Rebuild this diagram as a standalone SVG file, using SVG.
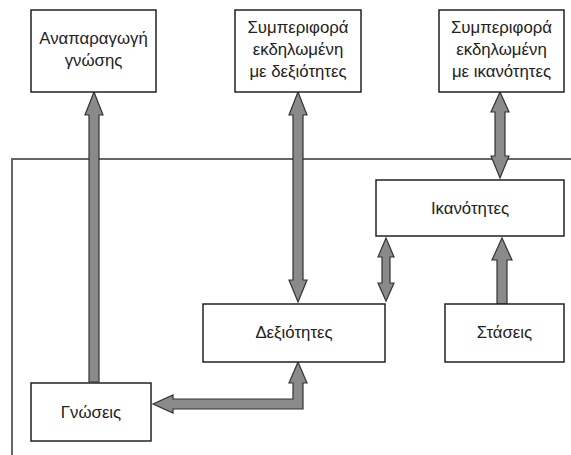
<svg xmlns="http://www.w3.org/2000/svg" width="571" height="455" viewBox="0 0 571 455">
<style>
.box{fill:#fff;stroke:#222;stroke-width:1.5}
.t{font-family:"Liberation Sans",Arial,sans-serif;font-size:16.8px;fill:#222;text-anchor:middle}
.arr{fill:#8a8a8a;stroke:#333;stroke-width:1.2;stroke-linejoin:miter}
</style>
<rect width="571" height="455" fill="#fff"/>
<path d="M12,455 V159 H571" fill="none" stroke="#666" stroke-width="2"/>
<g id="connectors">
<path class="arr" d="M94,92 L103,115 L99,115 L99,382 L89,382 L89,115 L85,115 Z"/>
<path class="arr" d="M298,92 L307,115 L303,115 L303,280 L307,280 L298,302 L289,280 L293,280 L293,115 L289,115 Z"/>
<path class="arr" d="M500,92 L509,112 L505,112 L505,156 L509,156 L500,178 L491,156 L495,156 L495,112 L491,112 Z"/>
<path class="arr" d="M386,238 L394,257 L390,257 L390,283 L394,283 L386,301 L378,283 L382,283 L382,257 L378,257 Z"/>
<path class="arr" d="M502,238 L512,260 L507,260 L507,304 L497,304 L497,260 L492,260 Z"/>
<path class="arr" d="M298,362 L307,383 L303,383 L303,409 L173,409 L173,413 L153,404 L173,395 L173,399 L293,399 L293,383 L289,383 Z"/>
</g>
<g id="n1"><rect class="box" x="31" y="10" width="125" height="82"/><text class="t" x="93.5" y="44">Αναπαραγωγή</text><text class="t" x="93.5" y="66">γνώσης</text></g>
<g id="n2"><rect class="box" x="235" y="10" width="126" height="82"/><text class="t" x="298" y="33">Συμπεριφορά</text><text class="t" x="298" y="55">εκδηλωμένη</text><text class="t" x="298" y="77">με δεξιότητες</text></g>
<g id="n3"><rect class="box" x="439" y="10" width="125" height="82"/><text class="t" x="501.5" y="33">Συμπεριφορά</text><text class="t" x="501.5" y="55">εκδηλωμένη</text><text class="t" x="501.5" y="77">με ικανότητες</text></g>
<g id="n4"><rect class="box" x="376" y="180" width="188" height="56" stroke-width="2.2"/><text class="t" x="470" y="214">Ικανότητες</text></g>
<g id="n5"><rect class="box" x="203" y="304" width="182" height="58"/><text class="t" x="294" y="338">Δεξιότητες</text></g>
<g id="n6"><rect class="box" x="445" y="304" width="119" height="58"/><text class="t" x="504.5" y="338">Στάσεις</text></g>
<g id="n7"><rect class="box" x="31" y="383" width="120" height="58"/><text class="t" x="91" y="418">Γνώσεις</text></g>
</svg>
